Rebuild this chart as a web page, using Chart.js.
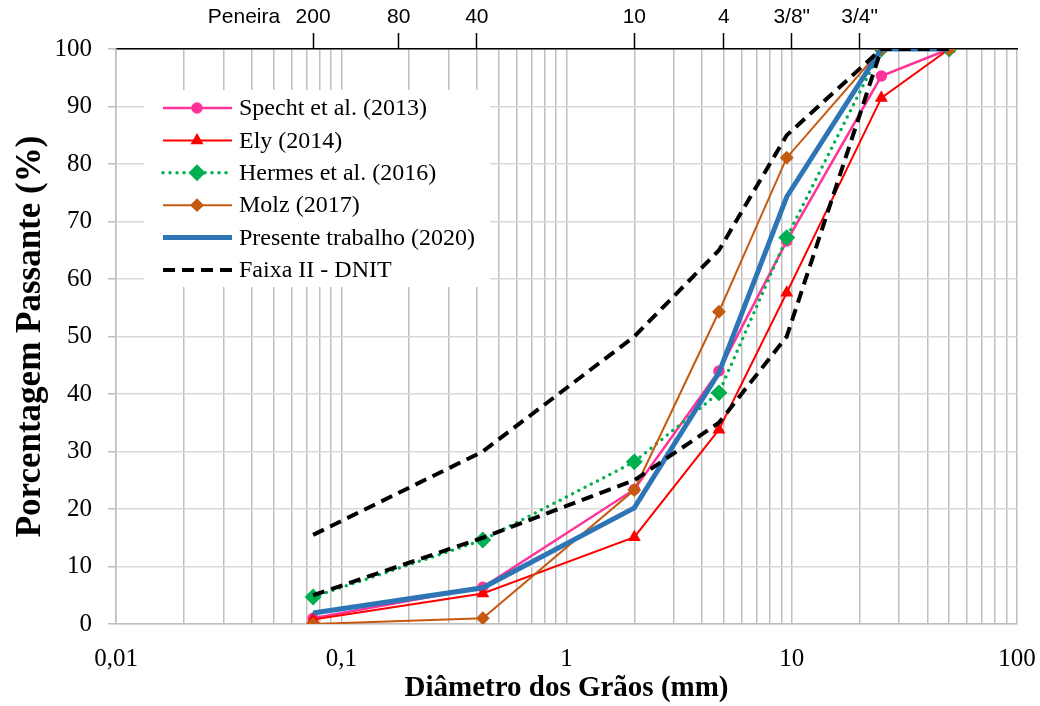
<!DOCTYPE html>
<html>
<head>
<meta charset="utf-8">
<script src="https://cdn.jsdelivr.net/npm/chart.js@4/dist/chart.umd.min.js"></script>
<style>
  html, body { margin: 0; padding: 0; background: #fff; }
  #wrap { width: 1040px; height: 706px; }
</style>
</head>
<body>
<div id="wrap"><canvas id="chart" width="1040" height="706"></canvas></div>
<script>
// abertura das peneiras (mm)
const sieveMm = [0.075, 0.425, 2.0, 4.75, 9.5, 25, 50];

// porcentagem passante
const specht = [1.0, 6.4, 23.4, 44.0, 66.6, 95.3, 100];
const ely = [0.8, 5.3, 15.1, 33.8, 57.6, 91.5, 100];
const hermes = [4.7, 14.6, 28.2, 40.2, 67.2, 100, 100];
const molz = [0, 1.0, 23.3, 54.3, 81.1, 100, 100];
const presente = [1.9, 6.3, 20.2, 43.7, 74.3, 100, 100];
const faixaSup = [15.5, 30, 50, 65, 85, 100, 100];
const faixaInf = [5, 15, 25, 35, 50, 100];

// eixo superior (peneiras)
const topTickMm = [0.037, 0.075, 0.18, 0.4, 2, 5, 10, 20];
const topTickLabels = ["Peneira", "200", "80", "40", "10", "4", "3/8\"", "3/4\""];

const serif = "'Liberation Serif', 'Times New Roman', serif";
const sans = "'Liberation Sans', Arial, sans-serif";

const toPoints = (ys) => ys.map((y, i) => ({ x: sieveMm[i], y: y }));

const logTicks = () => {
  const out = [];
  for (let e = -2; e <= 1; e++) {
    for (let k = 1; k <= 9; k++) out.push(k * Math.pow(10, e));
  }
  out.push(100);
  return out;
};

const isPow10 = (v) => Math.abs(Math.log10(v) - Math.round(Math.log10(v))) < 1e-9;

const datasets = [
  {
    label: "Specht et al. (2013)",
    data: toPoints(specht),
    borderColor: "#FF3399",
    backgroundColor: "#FF3399",
    borderWidth: 2.5,
    pointStyle: "circle",
    pointRadius: 4.5,
    order: 6
  },
  {
    label: "Ely (2014)",
    data: toPoints(ely),
    borderColor: "#FF0000",
    backgroundColor: "#FF0000",
    borderWidth: 2,
    pointStyle: "triangle",
    pointRadius: 5.5,
    order: 5
  },
  {
    label: "Hermes et al. (2016)",
    data: toPoints(hermes),
    borderColor: "#00B050",
    backgroundColor: "#00B050",
    borderWidth: 3.5,
    borderDash: [0, 7],
    borderCapStyle: "round",
    pointStyle: "rectRot",
    pointRadius: 6,
    order: 4
  },
  {
    label: "Molz (2017)",
    data: toPoints(molz),
    borderColor: "#C55A11",
    backgroundColor: "#C55A11",
    borderWidth: 2,
    pointStyle: "rectRot",
    pointRadius: 5.5,
    order: 3
  },
  {
    label: "Presente trabalho (2020)",
    data: toPoints(presente),
    borderColor: "#2E75B6",
    backgroundColor: "#2E75B6",
    borderWidth: 5,
    pointRadius: 0,
    order: 2
  },
  {
    label: "Faixa II - DNIT",
    data: toPoints(faixaSup),
    borderColor: "#000000",
    backgroundColor: "#000000",
    borderWidth: 4,
    borderDash: [12, 7],
    pointRadius: 0,
    order: 1
  },
  {
    label: "Faixa II - DNIT (inf)",
    legendHidden: true,
    data: toPoints(faixaInf),
    borderColor: "#000000",
    backgroundColor: "#000000",
    borderWidth: 4,
    borderDash: [12, 7],
    pointRadius: 0,
    order: 0
  }
];

// legenda no estilo do Excel (linha + marcador), fundo branco
const legendBox = {
  id: "legendBox",
  afterDatasetsDraw(chart) {
    const ctx = chart.ctx;
    ctx.save();
    ctx.fillStyle = "#fff";
    ctx.fillRect(144, 90, 346, 197);
    let y = 108;
    chart.data.datasets.forEach((ds) => {
      if (ds.legendHidden) return;
      ctx.beginPath();
      ctx.strokeStyle = ds.borderColor;
      ctx.lineWidth = ds.borderWidth;
      ctx.lineCap = ds.borderCapStyle || "butt";
      ctx.setLineDash(ds.borderDash || []);
      ctx.moveTo(163, y);
      ctx.lineTo(232, y);
      ctx.stroke();
      ctx.setLineDash([]);
      if (ds.pointRadius > 0) {
        ctx.fillStyle = ds.backgroundColor;
        ctx.strokeStyle = ds.borderColor;
        Chart.helpers.drawPoint(ctx, {
          pointStyle: ds.pointStyle,
          radius: ds.pointRadius,
          rotation: 0,
          borderWidth: 1
        }, 197, y);
      }
      ctx.fillStyle = "#000";
      ctx.font = "24px " + serif;
      ctx.textBaseline = "middle";
      ctx.textAlign = "left";
      ctx.fillText(ds.label, 239, y + 1);
      y += 32.4;
    });
    ctx.restore();
  }
};

const whiteBg = {
  id: "whiteBg",
  beforeDraw(chart) {
    const ctx = chart.ctx;
    ctx.save();
    ctx.fillStyle = "#fff";
    ctx.fillRect(0, 0, chart.width, chart.height);
    ctx.restore();
  }
};

new Chart(document.getElementById("chart"), {
  type: "line",
  data: { datasets: datasets },
  plugins: [whiteBg, legendBox],
  options: {
    responsive: false,
    animation: false,
    layout: { padding: { left: 0, right: 23, top: 0, bottom: 0 } },
    plugins: {
      legend: { display: false },
      tooltip: { enabled: false }
    },
    elements: {
      line: { tension: 0, fill: false },
      point: { borderWidth: 1 }
    },
    scales: {
      x: {
        type: "logarithmic",
        position: "bottom",
        min: 0.01,
        max: 100,
        afterBuildTicks: (scale) => {
          scale.ticks = logTicks().map((v) => ({ value: v }));
        },
        afterFit: (scale) => {
          scale.height = 82;
          scale.paddingLeft = 0;
          scale.paddingRight = 0;
        },
        grid: { color: "#bfbfbf", lineWidth: 1.5, drawTicks: false },
        border: { color: "#bfbfbf", width: 1.5 },
        ticks: {
          autoSkip: false,
          maxRotation: 0,
          padding: 20,
          color: "#000",
          font: { family: serif, size: 25 },
          callback: (v) => (isPow10(v) ? String(v).replace(".", ",") : "")
        },
        title: {
          display: true,
          text: "Diâmetro dos Grãos (mm)",
          color: "#000",
          font: { family: serif, size: 29, weight: "bold" },
          padding: { top: 0, bottom: 0 }
        }
      },
      x2: {
        type: "logarithmic",
        position: "top",
        min: 0.01,
        max: 100,
        afterBuildTicks: (scale) => {
          scale.ticks = topTickMm.map((v) => ({ value: v }));
        },
        afterFit: (scale) => {
          scale.height = 49;
          scale.paddingLeft = 0;
          scale.paddingRight = 0;
        },
        grid: {
          drawOnChartArea: false,
          tickLength: 16,
          tickWidth: 1.5,
          tickColor: (c) => (c.index === 0 ? "rgba(0,0,0,0)" : "#000")
        },
        border: { color: "#000", width: 1.5 },
        ticks: {
          autoSkip: false,
          maxRotation: 0,
          padding: 3,
          color: "#000",
          font: { family: sans, size: 21 },
          callback: (v, i) => topTickLabels[i]
        }
      },
      y: {
        min: 0,
        max: 100,
        afterFit: (scale) => { scale.width = 116; },
        grid: {
          color: (c) => (c.tick && c.tick.value % 10 === 0 ? "#d9d9d9" : "rgba(0,0,0,0)"),
          lineWidth: 1.5,
          tickLength: 8,
          tickColor: "#bfbfbf"
        },
        border: { color: "#bfbfbf", width: 1.5 },
        ticks: {
          stepSize: 5,
          padding: 16,
          color: "#000",
          font: { family: serif, size: 25 },
          callback: (v) => (v % 10 === 0 ? v : "")
        },
        title: {
          display: true,
          text: "Porcentagem Passante (%)",
          color: "#000",
          font: { family: serif, size: 35, weight: "bold" },
          padding: { top: 10, bottom: 0 }
        }
      }
    }
  }
});
</script>
</body>
</html>
